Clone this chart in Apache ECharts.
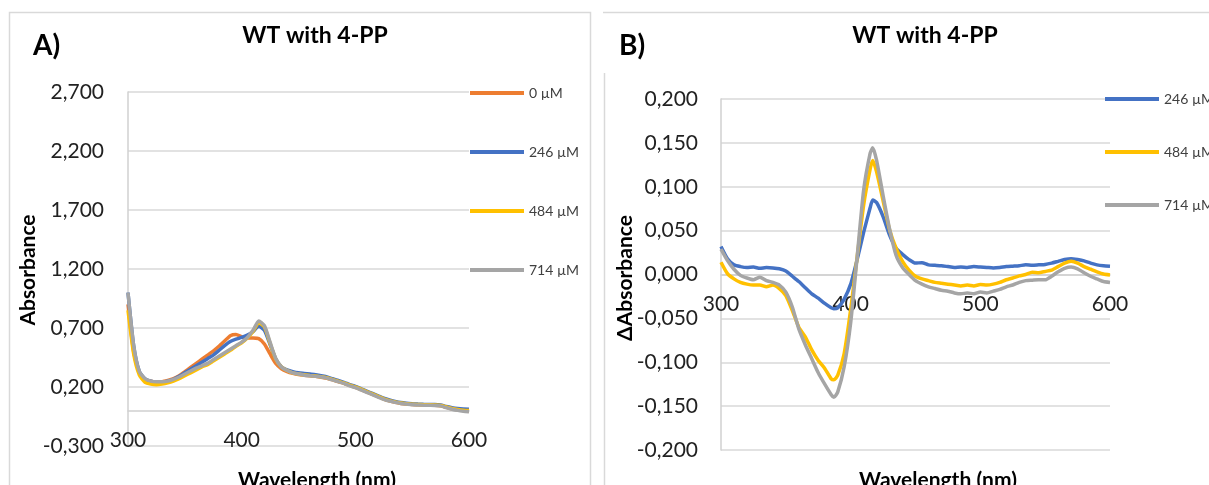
<!DOCTYPE html>
<html>
<head>
<meta charset="utf-8">
<script src="https://cdn.jsdelivr.net/npm/echarts@6/dist/echarts.min.js"></script>
<style>
html,body{margin:0;padding:0;background:#fff;}
#chart{width:1209px;height:485px;}
</style>
</head>
<body>
<div id="chart"></div>
<script>
// panel A: absorbance spectra, 5 nm steps
var wlA = [300,305,310,315,320,325,330,335,340,345,350,355,360,365,370,375,380,385,390,395,
  400,405,410,415,420,425,430,435,440,445,450,455,460,465,470,475,480,485,490,495,
  500,505,510,515,520,525,530,535,540,545,550,555,560,565,570,575,580,585,590,595,600];
var absA0 = [0.90,0.50,0.32,0.265,0.25,0.245,0.245,0.255,0.27,0.295,0.33,0.365,0.40,0.435,0.47,0.505,0.545,0.59,0.635,0.645,
  0.625,0.615,0.615,0.61,0.565,0.48,0.40,0.355,0.33,0.315,0.305,0.30,0.295,0.29,0.283,0.273,0.26,0.245,0.23,0.213,
  0.197,0.178,0.158,0.138,0.118,0.098,0.082,0.07,0.061,0.055,0.051,0.049,0.047,0.046,0.045,0.04,0.027,0.015,0.006,0.0,-0.004];
var absA246 = [1.0,0.55,0.33,0.27,0.25,0.245,0.245,0.25,0.265,0.29,0.32,0.35,0.38,0.41,0.44,0.47,0.51,0.55,0.585,0.605,
  0.62,0.64,0.67,0.715,0.68,0.56,0.44,0.37,0.345,0.33,0.32,0.315,0.31,0.305,0.295,0.285,0.27,0.255,0.24,0.22,
  0.205,0.185,0.165,0.145,0.125,0.105,0.09,0.078,0.068,0.062,0.058,0.055,0.053,0.052,0.052,0.048,0.035,0.025,0.018,0.014,0.012];
var absA484 = [0.85,0.48,0.30,0.24,0.225,0.22,0.225,0.235,0.25,0.27,0.295,0.32,0.345,0.37,0.39,0.42,0.45,0.48,0.51,0.545,
  0.575,0.615,0.67,0.745,0.71,0.57,0.435,0.37,0.34,0.32,0.31,0.303,0.298,0.293,0.287,0.278,0.264,0.249,0.234,0.216,
  0.2,0.181,0.161,0.141,0.121,0.1,0.085,0.074,0.064,0.058,0.054,0.052,0.05,0.049,0.048,0.044,0.03,0.018,0.009,0.003,0.0];
var absA714 = [1.0,0.55,0.33,0.27,0.25,0.245,0.245,0.25,0.265,0.285,0.31,0.335,0.36,0.38,0.40,0.43,0.46,0.49,0.52,0.55,
  0.58,0.62,0.68,0.76,0.72,0.58,0.44,0.37,0.34,0.32,0.31,0.30,0.295,0.29,0.285,0.275,0.26,0.245,0.23,0.21,
  0.195,0.175,0.155,0.135,0.115,0.095,0.08,0.07,0.06,0.055,0.05,0.048,0.046,0.045,0.044,0.04,0.025,0.012,0.002,-0.005,-0.01];

// panel B: difference spectra
var wlB = [300,305,310,315,320,325,330,335,340,345,350,355,360,365,370,375,380,385,387,390,395,
  400,405,410,415,417,420,425,430,435,440,445,450,455,460,465,470,475,480,485,490,495,
  500,505,510,515,520,525,530,535,540,545,550,555,560,565,570,575,580,585,590,595,600];
var dB246 = [0.032,0.018,0.011,0.009,0.008,0.0085,0.007,0.008,0.0075,0.0065,0.004,-0.002,-0.008,-0.015,-0.022,-0.027,-0.033,-0.038,-0.039,-0.038,-0.028,
  -0.011,0.017,0.048,0.076,0.085,0.082,0.066,0.045,0.03,0.023,0.017,0.013,0.0135,0.011,0.0105,0.01,0.009,0.008,0.0085,0.008,0.009,
  0.0085,0.008,0.0075,0.008,0.009,0.0095,0.01,0.011,0.0105,0.011,0.0115,0.013,0.015,0.017,0.018,0.017,0.0155,0.013,0.011,0.01,0.0095];
var dB484 = [0.014,0.001,-0.005,-0.009,-0.011,-0.012,-0.012,-0.014,-0.012,-0.016,-0.024,-0.041,-0.06,-0.071,-0.086,-0.098,-0.107,-0.119,-0.12,-0.115,-0.09,
  -0.04,0.02,0.079,0.12,0.13,0.117,0.084,0.051,0.03,0.015,0.005,-0.002,-0.005,-0.007,-0.009,-0.01,-0.011,-0.012,-0.013,-0.012,-0.013,
  -0.0115,-0.012,-0.011,-0.009,-0.006,-0.004,-0.0015,0.0,0.0025,0.002,0.0035,0.005,0.009,0.013,0.015,0.013,0.009,0.006,0.003,0.0005,-0.0005];
var dB714 = [0.029,0.016,0.006,-0.001,-0.004,-0.006,-0.003,-0.007,-0.009,-0.012,-0.02,-0.037,-0.062,-0.08,-0.096,-0.112,-0.125,-0.137,-0.14,-0.134,-0.105,
  -0.055,0.02,0.096,0.138,0.1445,0.13,0.09,0.052,0.022,0.008,0.0,-0.007,-0.011,-0.014,-0.016,-0.018,-0.019,-0.021,-0.022,-0.021,-0.022,
  -0.02,-0.021,-0.019,-0.017,-0.014,-0.012,-0.009,-0.007,-0.0065,-0.006,-0.006,-0.002,0.003,0.007,0.0085,0.0065,0.002,-0.002,-0.005,-0.008,-0.009];

var FONT = 'Lato';
var gridColor = '#D9D9D9';

function pairs(xs, ys){
  return xs.map(function(x, i){ return [x, ys[i]]; });
}
function fmt(v){
  return v.toFixed(3).replace('.', ',');
}
function line(name, color, xi, xs, ys){
  return {
    name: name, type: 'line', xAxisIndex: xi, yAxisIndex: xi,
    data: pairs(xs, ys), showSymbol: false, smooth: 0.2,
    lineStyle: {color: color, width: 3.5}, itemStyle: {color: color},
    animation: false
  };
}
// x axis sits on the zero line: shift it up from the grid bottom
function xAx(gi, shift){
  return {
    gridIndex: gi, type: 'value', min: 300, max: 600, interval: 100,
    offset: -shift,
    axisLine: {onZero: false, lineStyle: {color: '#D0D0D0', width: 1.5}},
    axisTick: {show: false}, splitLine: {show: false},
    axisLabel: {margin: 19, fontSize: 21, color: '#222', fontFamily: FONT}
  };
}
function yAx(gi, mn, mx, step, margin){
  return {
    gridIndex: gi, type: 'value', min: mn, max: mx, interval: step,
    axisLine: {show: true, lineStyle: {color: '#D0D0D0', width: 1.5}},
    axisTick: {show: false},
    splitLine: {lineStyle: {color: gridColor, width: 1.5}},
    axisLabel: {margin: margin, fontSize: 21, color: '#222', fontFamily: FONT, formatter: fmt}
  };
}
function txt(s, x, y, size, align, rot){
  return {
    type: 'text', x: x, y: y, rotation: rot || 0,
    style: {text: s, font: 'bold ' + size + 'px ' + FONT, fill: '#000',
      textAlign: align || 'center', textVerticalAlign: 'middle'}
  };
}

var chart = echarts.init(document.getElementById('chart'));
chart.setOption({
  backgroundColor: '#fff',
  animation: false,
  grid: [
    {left: 128, top: 92, width: 341, height: 354},
    {left: 721, top: 99, width: 389, height: 351}
  ],
  xAxis: [xAx(0, 354 * 0.3 / 3.0), xAx(1, 351 * 0.5)],
  yAxis: [yAx(0, -0.3, 2.7, 0.5, 24), yAx(1, -0.2, 0.2, 0.05, 23)],
  legend: [
    {data: ['0 µM','246 µM','484 µM','714 µM'], orient: 'vertical', left: 470, top: 85,
     padding: 0, itemGap: 43, itemWidth: 54, itemHeight: 4, icon: 'rect', selectedMode: false,
     textStyle: {fontSize: 14, lineHeight: 16, color: '#404040', fontFamily: FONT}},
    {data: ['246 µM','484 µM','714 µM'], orient: 'vertical', left: 1105, top: 91,
     padding: 0, itemGap: 37, itemWidth: 54, itemHeight: 4, icon: 'rect', selectedMode: false,
     textStyle: {fontSize: 14, lineHeight: 16, color: '#404040', fontFamily: FONT}}
  ],
  series: [
    line('0 µM', '#ED7D31', 0, wlA, absA0),
    line('246 µM', '#4472C4', 0, wlA, absA246),
    line('484 µM', '#FFC000', 0, wlA, absA484),
    line('714 µM', '#A5A5A5', 0, wlA, absA714),
    line('246 µM', '#4472C4', 1, wlB, dB246),
    line('484 µM', '#FFC000', 1, wlB, dB484),
    line('714 µM', '#A5A5A5', 1, wlB, dB714)
  ],
  graphic: [
    {type: 'rect', shape: {x: 9.5, y: 12.5, width: 581, height: 500}, style: {fill: 'none', stroke: gridColor, lineWidth: 1.5}},
    {type: 'line', shape: {x1: 603, y1: 12.5, x2: 1209, y2: 12.5}, style: {stroke: gridColor, lineWidth: 1.5}},
    {type: 'line', shape: {x1: 604.5, y1: 73, x2: 604.5, y2: 485}, style: {stroke: gridColor, lineWidth: 1.5}},
    txt('A)', 33, 46, 28, 'left'),
    txt('B)', 619, 46, 28, 'left'),
    txt('WT with 4-PP', 315, 36, 23),
    txt('WT with 4-PP', 925, 36, 23),
    txt('Absorbance', 28, 270, 21, 'center', Math.PI / 2),
    txt('ΔAbsorbance', 625, 278, 21, 'center', Math.PI / 2),
    txt('Wavelength (nm)', 317, 480, 21),
    txt('Wavelength (nm)', 938, 480, 21)
  ]
});
</script>
</body>
</html>
